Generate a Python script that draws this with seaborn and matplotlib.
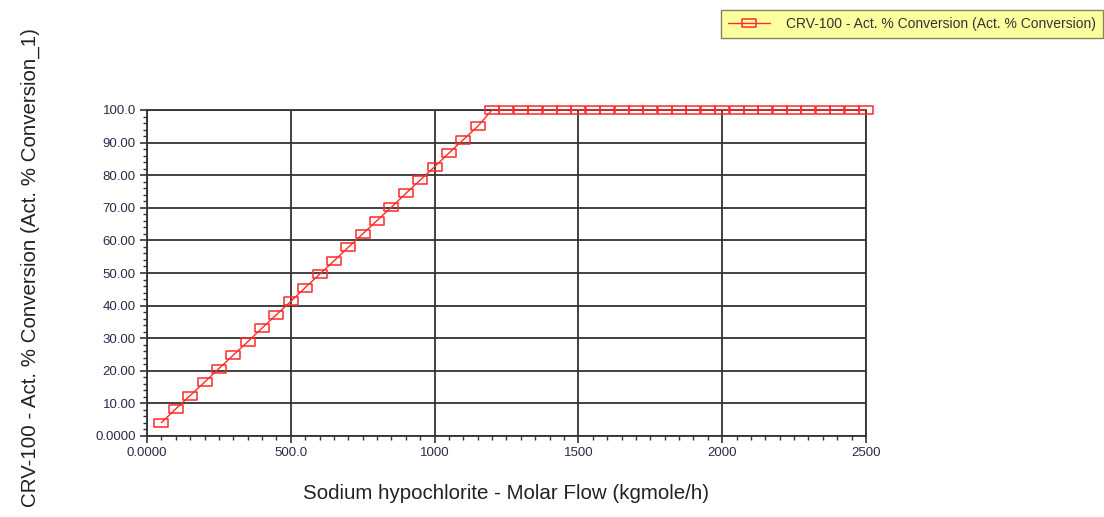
import numpy as np
import pandas as pd
import matplotlib
matplotlib.use("Agg")
import matplotlib.pyplot as plt
from matplotlib.path import Path
from matplotlib.ticker import MultipleLocator, FixedLocator, FixedFormatter
import seaborn as sns

# ---- data ----
flow = [50, 100, 150, 200, 250, 300, 350, 400, 450, 500,
        550, 600, 650, 700, 750, 800, 850, 900, 950, 1000,
        1050, 1100, 1150, 1200, 1250, 1300, 1350, 1400, 1450, 1500,
        1550, 1600, 1650, 1700, 1750, 1800, 1850, 1900, 1950, 2000,
        2050, 2100, 2150, 2200, 2250, 2300, 2350, 2400, 2450, 2500]
conversion = [4.1, 8.3, 12.4, 16.5, 20.7, 24.8, 28.9, 33.1, 37.2, 41.3,
              45.5, 49.6, 53.7, 57.9, 62.0, 66.1, 70.2, 74.4, 78.5, 82.6,
              86.8, 90.9, 95.0, 100.0, 100.0, 100.0, 100.0, 100.0, 100.0, 100.0,
              100.0, 100.0, 100.0, 100.0, 100.0, 100.0, 100.0, 100.0, 100.0, 100.0,
              100.0, 100.0, 100.0, 100.0, 100.0, 100.0, 100.0, 100.0, 100.0, 100.0]
x_ticks = [0, 500, 1000, 1500, 2000, 2500]
x_tick_labels = ["0.0000", "500.0", "1000", "1500", "2000", "2500"]
y_ticks = [0, 10, 20, 30, 40, 50, 60, 70, 80, 90, 100]
y_tick_labels = ["0.0000", "10.00", "20.00", "30.00", "40.00", "50.00",
                 "60.00", "70.00", "80.00", "90.00", "100.0"]
series_label = "CRV-100 - Act. % Conversion (Act. % Conversion)"
x_label = "Sodium hypochlorite - Molar Flow (kgmole/h)"
y_label = "CRV-100 - Act. % Conversion (Act. % Conversion_1)"

df = pd.DataFrame({"flow": flow, "conv": conversion})

sns.set_theme(style="white")
plt.rcParams["font.family"] = ["Liberation Sans", "DejaVu Sans"]

W, H = 1104, 517
fig = plt.figure(figsize=(W / 100, H / 100), dpi=100)
ax = fig.add_axes([147 / W, 1 - 436 / H, (866 - 147) / W, (436 - 110) / H])

rect = Path([(-1, -0.55), (1, -0.55), (1, 0.55), (-1, 0.55), (-1, -0.55)],
            [Path.MOVETO, Path.LINETO, Path.LINETO, Path.LINETO, Path.CLOSEPOLY])

sns.lineplot(data=df, x="flow", y="conv", ax=ax, color="#ff2a2a",
             linewidth=1.0, marker=rect, markersize=9.5,
             markerfacecolor="none", markeredgecolor="#ff2a2a",
             markeredgewidth=1.1, label=series_label, legend=False, zorder=5,
             clip_on=False)

ax.set_xlim(0, 2500)
ax.set_ylim(0, 100)
ax.xaxis.set_major_locator(FixedLocator(x_ticks))
ax.xaxis.set_major_formatter(FixedFormatter(x_tick_labels))
ax.yaxis.set_major_locator(FixedLocator(y_ticks))
ax.yaxis.set_major_formatter(FixedFormatter(y_tick_labels))
ax.xaxis.set_minor_locator(MultipleLocator(50))
ax.yaxis.set_minor_locator(MultipleLocator(2))

ax.grid(True, which="major", color="#333333", linewidth=1.3)
for s in ax.spines.values():
    s.set_color("#333333")
    s.set_linewidth(1.3)

ax.tick_params(axis="both", which="major", direction="out", length=5,
               width=1.2, color="#333333", labelsize=9.5,
               labelcolor="#2a2a4a", pad=3, left=True, bottom=True)
ax.tick_params(axis="both", which="minor", direction="out", length=3,
               width=1.0, color="#333333", left=True, bottom=True)

ax.set_xlabel(x_label, fontsize=14.8, color="#222222", labelpad=18)
ax.set_ylabel("")
fig.text(30 / W, 1 - 268 / H, y_label, rotation=90, fontsize=14.8,
         color="#222222", ha="center", va="center")

leg = fig.legend(loc="upper left", bbox_to_anchor=(721 / W, 1 - 10 / H),
                 frameon=True, fontsize=10.0, handlelength=3,
                 borderpad=0.5, borderaxespad=0, handletextpad=1.2,
                 fancybox=False)
leg.get_frame().set_facecolor("#ffff88")
leg.get_frame().set_edgecolor("#666644")
leg.get_frame().set_linewidth(1.0)
for t in leg.get_texts():
    t.set_color("#333333")

fig.savefig("out.png", dpi=100)
